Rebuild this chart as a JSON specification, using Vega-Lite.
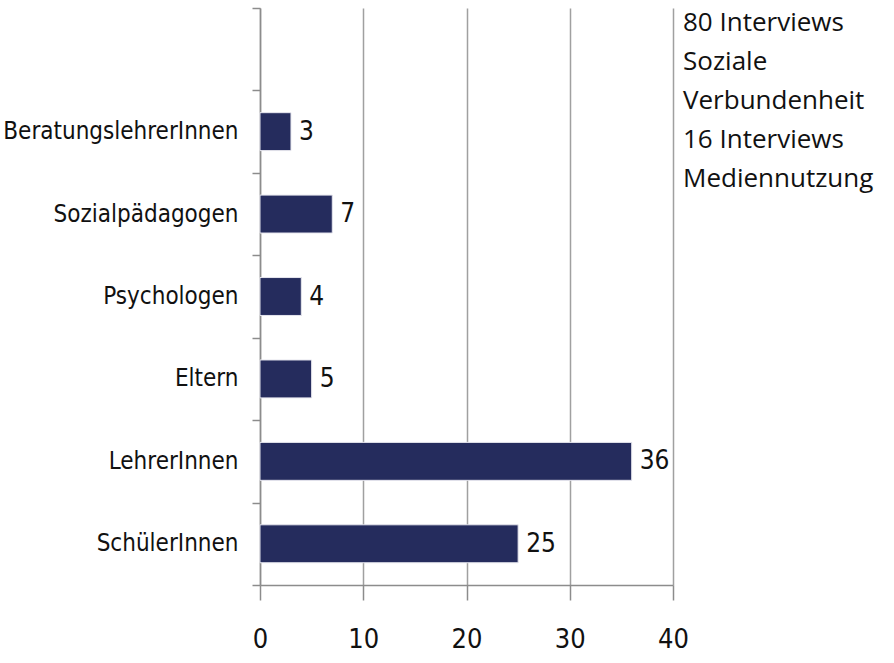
{
  "$schema": "https://vega.github.io/schema/vega-lite/v6.json",
  "autosize": "none",
  "width": 413,
  "height": 577,
  "padding": {"left": 260, "top": 8, "right": 221, "bottom": 78},
  "background": "white",
  "config": {"view": {"stroke": null}},
  "datasets": {
    "bars": [
      {"gruppe": "BeratungslehrerInnen", "anzahl": 3},
      {"gruppe": "Sozialpädagogen", "anzahl": 7},
      {"gruppe": "Psychologen", "anzahl": 4},
      {"gruppe": "Eltern", "anzahl": 5},
      {"gruppe": "LehrerInnen", "anzahl": 36},
      {"gruppe": "SchülerInnen", "anzahl": 25}
    ],
    "notiz": [
      {"zeilen": ["80 Interviews", "Soziale", "Verbundenheit", "16 Interviews", "Mediennutzung"]}
    ]
  },
  "layer": [
    {
      "data": {"name": "bars"},
      "mark": {"type": "bar", "color": "#252C5D", "height": {"band": 0.46}, "stroke": "#e6e6ee", "strokeWidth": 1},
      "encoding": {
        "y": {
          "field": "gruppe", "type": "nominal",
          "scale": {"domain": [" ", "BeratungslehrerInnen", "Sozialpädagogen", "Psychologen", "Eltern", "LehrerInnen", "SchülerInnen"], "paddingInner": 0, "paddingOuter": 0},
          "axis": {
            "title": null, "tickBand": "extent", "domainColor": "#8c8c8c", "domainWidth": 1.5,
            "tickColor": "#8c8c8c", "tickWidth": 1.5, "tickSize": 8,
            "labelFont": "DejaVu Sans Condensed", "labelFontSize": 24, "labelColor": "#111111",
            "labelPadding": 14, "labelLimit": 400, "grid": false
          }
        },
        "x": {
          "field": "anzahl", "type": "quantitative",
          "scale": {"domain": [0, 40], "nice": false},
          "axis": {
            "title": null, "values": [0, 10, 20, 30, 40], "grid": true, "gridColor": "#a0a0a0", "gridWidth": 1.5,
            "domainColor": "#8c8c8c", "domainWidth": 1.5, "tickColor": "#8c8c8c", "tickWidth": 1.5, "tickSize": 15,
            "labelFont": "DejaVu Sans Condensed", "labelFontSize": 27, "labelColor": "#111111", "labelPadding": 26,
            "labelFlush": false
          }
        }
      }
    },
    {
      "data": {"name": "bars"},
      "mark": {"type": "text", "align": "left", "baseline": "middle", "dx": 8, "font": "DejaVu Sans Condensed", "fontSize": 26, "color": "#111111"},
      "encoding": {
        "y": {"field": "gruppe", "type": "nominal"},
        "x": {"field": "anzahl", "type": "quantitative"},
        "text": {"field": "anzahl", "type": "quantitative"}
      }
    },
    {
      "data": {"name": "notiz"},
      "mark": {"type": "text", "align": "left", "baseline": "top", "dx": 10, "dy": -39, "font": "Open Sans", "fontSize": 26, "lineHeight": 39, "color": "#111111"},
      "encoding": {
        "x": {"datum": 40, "type": "quantitative"},
        "y": {"datum": " ", "type": "nominal"},
        "text": {"field": "zeilen"}
      }
    }
  ]
}
